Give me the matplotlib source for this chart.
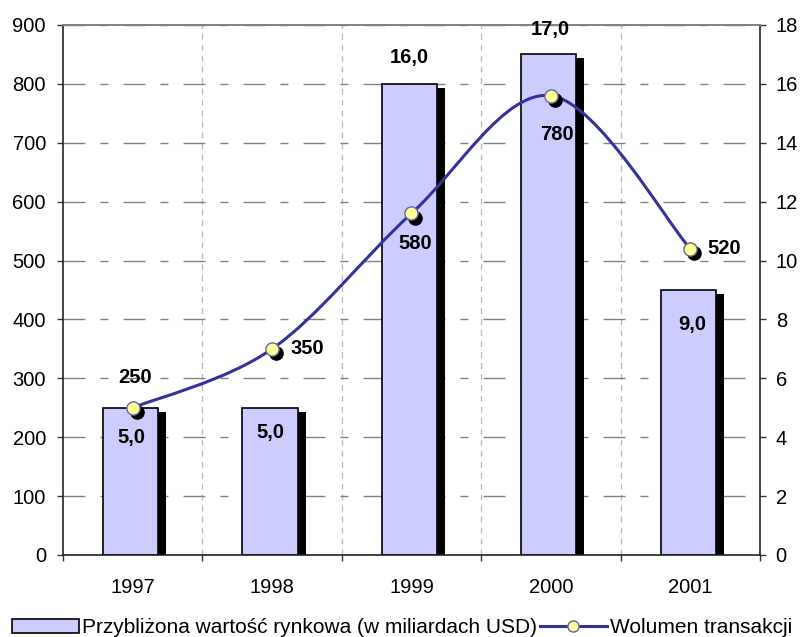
import matplotlib
matplotlib.use('Agg')
import matplotlib.pyplot as plt
import matplotlib.patheffects as pe
from matplotlib.transforms import offset_copy
from matplotlib.lines import Line2D
from matplotlib.patches import Patch, PathPatch
from matplotlib.path import Path
import numpy as np

# ---- data ----
years = ['1997', '1998', '1999', '2000', '2001']
market_value = [5.0, 5.0, 16.0, 17.0, 9.0]          # right axis (bars)
volume = [250, 350, 580, 780, 520]                   # left axis (line)
bar_series_label = 'Przybliżona wartość rynkowa (w miliardach USD)'
line_series_label = 'Wolumen transakcji'
left_ticks = list(range(0, 1000, 100))
right_ticks = list(range(0, 20, 2))

plt.rcParams['font.family'] = ['Liberation Sans', 'DejaVu Sans']
plt.rcParams['lines.scale_dashes'] = False

BAR_COLOR = '#CCCCFF'
LINE_COLOR = '#333399'
MARKER_FACE = '#FFFF99'
MARKER_EDGE = '#666699'
FS = 14.5

fig = plt.figure(figsize=(8.04, 6.37), dpi=100)
ax = fig.add_axes([63 / 804, 82 / 637, 697 / 804, 530 / 637])
ax2 = ax.twinx()
ax.set_zorder(ax2.get_zorder() + 1)
ax.patch.set_visible(False)

n = len(years)
x = np.arange(n)
ax.set_xlim(-0.5, n - 0.5)
ax.set_ylim(0, 900)
ax2.set_ylim(0, 18)

# ---- grid (on lower axes, behind bars) ----
ax2.set_yticks(right_ticks)
ax2.yaxis.grid(True, color='#808080', lw=1.0,
               linestyle=(0, (15.8, 10.8, 5.8, 10.8)), zorder=0)
ax2.set_axisbelow(True)
for b in x[:-1] + 0.5:
    ax2.axvline(b, color='#B8B8B8', lw=0.9, linestyle=(0, (4.3, 3.6)), zorder=0.5)

# ---- bars with shadow ----
ax2.bar(x - 0.015, market_value, width=0.395, color=BAR_COLOR,
        edgecolor='black', linewidth=1.2, zorder=3,
        path_effects=[pe.SimplePatchShadow(offset=(5.8, -2.9),
                                           shadow_rgbFace='black', alpha=1.0),
                      pe.Normal()])

# ---- smoothed line (Catmull-Rom / Bezier through the data points) ----
pts = np.column_stack([x, volume]).astype(float)
verts = [pts[0]]
codes = [Path.MOVETO]
for i in range(n - 1):
    p0 = pts[i - 1] if i > 0 else pts[i]
    p1 = pts[i]
    p2 = pts[i + 1]
    p3 = pts[i + 2] if i + 2 < n else pts[i + 1]
    c1 = p1 + (p2 - p0) / 6.0
    c2 = p2 - (p3 - p1) / 6.0
    verts += [c1, c2, p2]
    codes += [Path.CURVE4] * 3
ax.add_patch(PathPatch(Path(verts, codes), facecolor='none',
                       edgecolor=LINE_COLOR, lw=2.2, zorder=3,
                       capstyle='round', joinstyle='round'))

shadow_tr = offset_copy(ax.transData, fig=fig, x=4, y=-4.5, units='dots')
ax.plot(x, volume, 'o', ms=9.5, color='black', transform=shadow_tr, zorder=4)
ax.plot(x, volume, 'o', ms=9.5, mfc=MARKER_FACE, mec=MARKER_EDGE, mew=1.0,
        linestyle='none', zorder=5)

# ---- data labels ----
line_offsets = [(2, 30), (35, 0), (4, -30), (6, -39), (34, 0)]
for xi, v, off in zip(x, volume, line_offsets):
    ax.annotate(f'{v}', xy=(xi, v), xytext=off, textcoords='offset pixels',
                ha='center', va='center', fontsize=FS, fontweight='bold', zorder=6)

bar_offsets = [(-1, -30), (-1.5, -25), (-2, 26), (-1, 25), (2, -34.5)]
for xi, v, off in zip(x, market_value, bar_offsets):
    ax.annotate(f'{v:.1f}'.replace('.', ','), xy=(xi, v), xycoords=ax2.transData,
                xytext=off, textcoords='offset pixels',
                ha='center', va='center', fontsize=FS, fontweight='bold', zorder=6)

# ---- axes styling ----
ax.set_yticks(left_ticks)
ax.set_yticklabels([str(t) for t in left_ticks])
ax2.set_yticklabels([str(t) for t in right_ticks])
ax.tick_params(axis='y', direction='out', length=4.3, width=1.0, pad=8,
               labelsize=FS, color='#333333')
ax2.tick_params(axis='y', direction='out', length=4.3, width=1.0, pad=7,
                labelsize=FS, color='#333333')

ax.set_xticks(np.arange(-0.5, n, 1.0))
ax.set_xticklabels([])
ax.set_xticks(x, labels=years, minor=True)
ax.tick_params(axis='x', which='major', direction='out', length=4.3, width=1.0,
               color='#333333')
ax.tick_params(axis='x', which='minor', length=0, pad=16.5, labelsize=FS)

for s in ['left', 'right', 'bottom']:
    ax.spines[s].set_color('#222222')
    ax.spines[s].set_linewidth(1.2)
ax.spines['top'].set_color('#808080')
ax.spines['top'].set_linewidth(1.4)
for s in ax2.spines.values():
    s.set_visible(False)

# ---- legend ----
handles = [Patch(facecolor=BAR_COLOR, edgecolor='black', lw=1.2),
           Line2D([], [], color=LINE_COLOR, lw=2.2, marker='o', ms=8,
                  mfc=MARKER_FACE, mec=MARKER_EDGE, mew=1.0)]
fig.legend(handles, [bar_series_label, line_series_label], loc='lower center',
           bbox_to_anchor=(0.5, -0.004), ncol=2, frameon=False, fontsize=15,
           handlelength=3.2, handleheight=0.62, handletextpad=0.15,
           columnspacing=0.15, borderpad=0.1, borderaxespad=0)

fig.savefig('out.png', dpi=100)
